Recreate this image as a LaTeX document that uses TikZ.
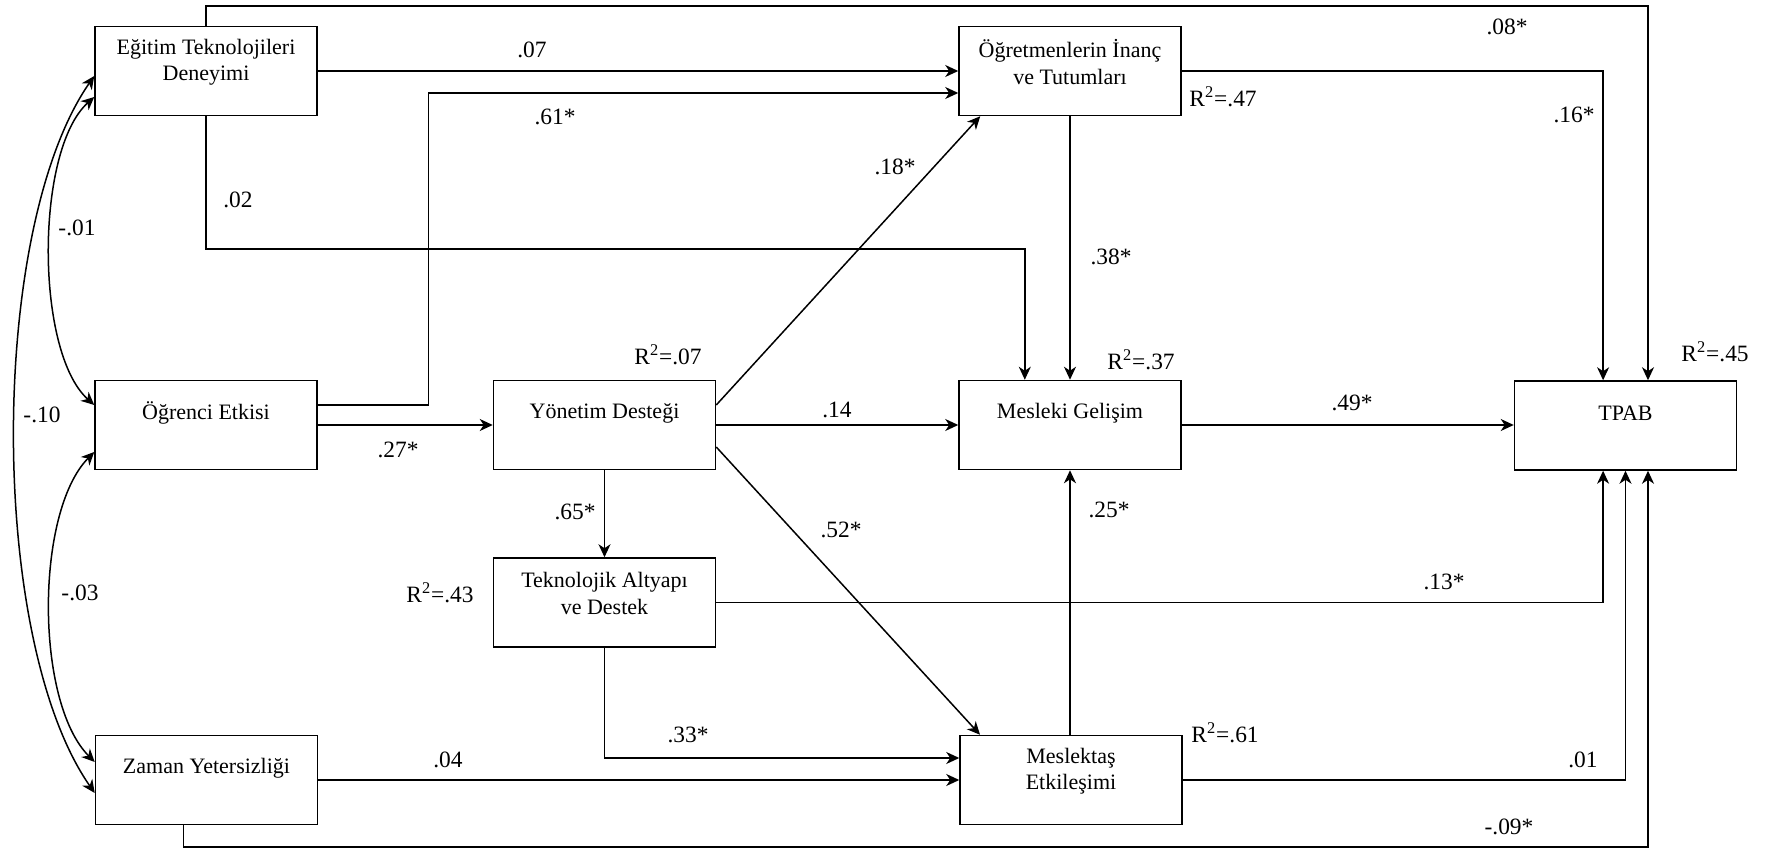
\documentclass[tikz,border=0pt]{standalone}
\usepackage{fontspec}
\setmainfont{Liberation Serif}
\usetikzlibrary{arrows.meta,calc}

\tikzset{
  box/.style={draw, line width=0.75pt, minimum width=111pt, minimum height=44.5pt, inner sep=0pt},
  boxtxt/.style={align=center, inner sep=0pt, font=\fontsize{11}{13.2}\selectfont},
  lbl/.style={inner sep=0pt, font=\fontsize{11.7}{14}\selectfont},
  rsq/.style={inner sep=0pt, anchor=west, font=\fontsize{11.7}{14}\selectfont},
  arr/.style={line width=0.75pt, -{Stealth[length=6.5pt,width=6pt,inset=2pt]}},
  dbl/.style={line width=0.75pt, {Stealth[length=6.5pt,width=6pt,inset=2pt]}-{Stealth[length=6.5pt,width=6pt,inset=2pt]}},
}

\begin{document}
\begin{tikzpicture}[x=0.5pt, y=-0.5pt]
\useasboundingbox (0,0) rectangle (1774,850);

% boxes
\node[box] (E)  at (206,71)    {};
\node[box] (O)  at (1070,71)   {};
\node[box] (OE) at (206,425)   {};
\node[box] (Y)  at (604.5,425) {};
\node[box] (M)  at (1070,425)  {};
\node[box] (T)  at (1625.5,425.5) {};
\node[box] (Tk) at (604.5,602.5) {};
\node[box] (ME) at (1071,780)  {};
\node[box] (Z)  at (206.5,780) {};

% box texts
\node[boxtxt] (Et)  at ([yshift=4.5pt]E.center)  {Eğitim Teknolojileri\\Deneyimi};
\node[boxtxt] (Ot)  at ([yshift=4.5pt]O.center)  {Öğretmenlerin İnanç\\ve Tutumları};
\node[boxtxt] (OEt) at ([yshift=6pt]OE.center)   {Öğrenci Etkisi};
\node[boxtxt] (Yt)  at ([yshift=6pt]Y.center)    {Yönetim Desteği};
\node[boxtxt] (Mt)  at ([yshift=6pt]M.center)    {Mesleki Gelişim};
\node[boxtxt] (Tt)  at ([yshift=6pt]T.center)    {TPAB};
\node[boxtxt] (Tkt) at ([yshift=4.5pt]Tk.center) {Teknolojik Altyapı\\ve Destek};
\node[boxtxt] (MEt) at ([yshift=4.5pt]ME.center) {Meslektaş\\Etkileşimi};
\node[boxtxt] (Zt)  at ([yshift=6pt]Z.center)    {Zaman Yetersizliği};

% bend points of the routed paths
\coordinate (k08) at (1648,6);
\coordinate (k61) at (428.6,405);
\coordinate (k02) at (1024.8,249);
\coordinate (k09) at (1648,847);

% paths
\draw[arr] (E.north) |- (k08) -- (k08 |- T.north);
\draw[arr] (E.east) -- (O.west);
\draw[arr] ([yshift=10pt]OE.east) -- (k61) |- ([yshift=-11pt]O.west);
\draw[arr] (E.south) |- (k02) -- (k02 |- M.north);
\draw[arr] ([yshift=10pt]Y.east) -- ([xshift=11pt]O.south west);
\draw[arr] (O.south) -- (M.north);
\draw[arr] (O.east) -| ([xshift=-11.2pt]T.north);
\draw[arr] (OE.east) -- (Y.west);
\draw[arr] (Y.east) -- (M.west);
\draw[arr] (M.east) -- (M.east -| T.west);
\draw[arr] (Y.south) -- (Tk.north);
\draw[arr] ([yshift=-11pt]Y.east) -- ([xshift=10.4pt]ME.north west);
\draw[arr] (ME.north -| M.south) -- (M.south);
\draw[arr] (Tk.east) -| ([xshift=-11.2pt]T.south);
\draw[arr] (Tk.south) |- ([yshift=11pt]ME.west);
\draw[arr] (Z.east) -- (Z.east -| ME.west);
\draw[arr] (ME.east) -| (T.south);
\draw[arr] ([xshift=-11.4pt]Z.south) |- (k09) -- (k09 |- T.south);

% correlations among the exogenous variables
\draw[dbl] ([yshift=-13pt]E.west) .. controls (35,150) and (35,352) .. ([yshift=10pt]OE.west);
\draw[dbl] ([yshift=-2.5pt]E.west) .. controls (-12,229) and (-12,640) .. ([yshift=-6.5pt]Z.west);
\draw[dbl] ([yshift=-13.5pt]OE.west) .. controls (35,512) and (35,702) .. ([yshift=9pt]Z.west);

% coefficients
\node[lbl] (l08) at (1507,27)  {.08*};
\node[lbl] (l07) at (532,50)   {.07};
\node[lbl] (l61) at (555,117)  {.61*};
\node[lbl] (l02) at (238,200)  {.02};
\node[lbl] (l01) at (77,228)   {-.01};
\node[lbl] (l18) at (895,167)  {.18*};
\node[lbl] (l38) at (1111,257) {.38*};
\node[lbl] (l16) at (1574,115) {.16*};
\node[lbl] (l10) at (42,415)   {-.10};
\node[lbl] (l27) at (398,450)  {.27*};
\node[lbl] (l14) at (837,410)  {.14};
\node[lbl] (l49) at (1352,403) {.49*};
\node[lbl] (l65) at (575,512)  {.65*};
\node[lbl] (l52) at (841,530)  {.52*};
\node[lbl] (l25) at (1109,510) {.25*};
\node[lbl] (l13) at (1444,582) {.13*};
\node[lbl] (l03) at (80,593)   {-.03};
\node[lbl] (l33) at (688,735)  {.33*};
\node[lbl] (l04) at (448,760)  {.04};
\node[lbl] (l01b) at (1583,760) {.01};
\node[lbl] (l09) at (1509,827) {-.09*};

% explained variance
\node[rsq] (r47) at (1189,97)  {R\textsuperscript{2}=.47};
\node[rsq] (r07) at (634,355)  {R\textsuperscript{2}=.07};
\node[rsq] (r37) at (1107,360) {R\textsuperscript{2}=.37};
\node[rsq] (r45) at (1681,352) {R\textsuperscript{2}=.45};
\node[rsq] (r43) at (406,593)  {R\textsuperscript{2}=.43};
\node[rsq] (r61) at (1191,733) {R\textsuperscript{2}=.61};
\end{tikzpicture}
\end{document}
